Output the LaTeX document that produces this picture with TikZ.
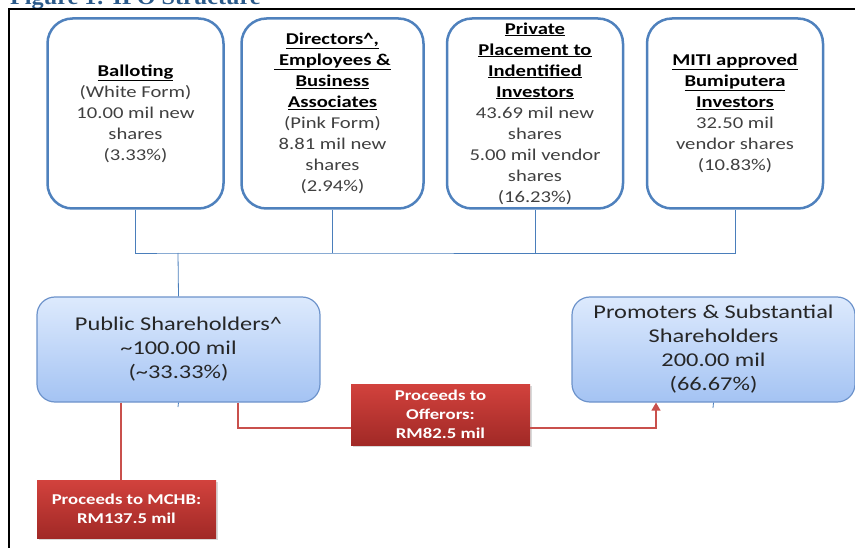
\documentclass[tikz,border=0pt]{standalone}
\usepackage{fontspec}
\setmainfont{Carlito}[FakeStretch=1.25]
\newfontfamily\titlefont{Liberation Serif}[FakeStretch=1.1]
\usetikzlibrary{arrows.meta,positioning,shadows}

\definecolor{boxblue}{HTML}{4F81BD}
\definecolor{lineblue}{HTML}{4A7EBB}
\definecolor{shadetop}{HTML}{DDEAFD}
\definecolor{shadebot}{HTML}{A4C3F3}
\definecolor{pubborder}{HTML}{6D93CB}
\definecolor{redtop}{HTML}{D2423D}
\definecolor{redbot}{HTML}{A12926}
\definecolor{redline}{HTML}{C9504C}
\definecolor{bodygray}{HTML}{404040}
\definecolor{titleblue}{HTML}{2B5A8A}

\newcommand{\hd}[1]{\textcolor{black}{\textbf{\underline{#1}}}}

\begin{document}
\begin{tikzpicture}[x=1pt,y=-1pt,>={Triangle[width=9pt,length=8pt]},
    tranche/.style={draw=boxblue,line width=2.5pt,rounded corners=25pt,
        minimum width=176pt,minimum height=190pt,align=center,inner sep=0pt,
        text=bodygray,font=\fontsize{16.5}{21}\selectfont},
    holder/.style={draw=pubborder,line width=1.2pt,rounded corners=18pt,
        top color=shadetop,bottom color=shadebot,minimum width=283pt,
        minimum height=105pt,align=center,text=black!85,
        font=\fontsize{19.5}{24}\selectfont},
    proceeds/.style={top color=redtop,bottom color=redbot,minimum width=179pt,
        align=center,inner sep=0pt,text=white,
        font=\bfseries\fontsize{15}{19}\selectfont,
        drop shadow={opacity=0.3,shadow xshift=2pt,shadow yshift=-2pt}},
    bus/.style={draw=lineblue,line width=0.8pt},
    cash/.style={draw=redline,line width=1.3pt}]

    \useasboundingbox (0,0) rectangle (855,548);

    % title, cut off at the top
    \begin{scope}
        \clip (0,0) rectangle (855,8);
        \node[anchor=base west,inner sep=0pt,text=titleblue,
              font=\titlefont\bfseries\fontsize{22}{26}\selectfont] (title) at (10,5) {Figure 1: IPO Structure};
    \end{scope}
    \draw[line width=2pt] (9,548) |- (855,9);

    % tranches
    \node[tranche] (ballot) at (135.5,113.5) {\hd{Balloting}\\(White Form)\\10.00 mil new\\shares\\(3.33\%)};
    \node[tranche,minimum width=182pt] (staff) at (332.5,113.5) {\hd{Directors\^{},}\\\hd{\ Employees \&}\\\hd{Business}\\\hd{Associates}\\(Pink Form)\\8.81 mil new\\shares\\(2.94\%)};
    \node[tranche] (private) at (535,113.5) {\hd{Private}\\\hd{Placement to}\\\hd{Indentified}\\\hd{Investors}\\43.69 mil new\\shares\\5.00 mil vendor\\shares\\(16.23\%)};
    \node[tranche] (miti) at (735,113.5) {\hd{MITI approved}\\\hd{Bumiputera}\\\hd{Investors}\\32.50 mil\\vendor shares\\(10.83\%)};

    % shareholders
    \node[holder] (public) at (178.5,349.5) {Public Shareholders\^{}\\\textasciitilde100.00 mil\\(\textasciitilde33.33\%)};
    \node[holder] (promoters) at (713.5,349.5) {Promoters \& Substantial\\Shareholders\\200.00 mil\\(66.67\%)};

    % proceeds
    \node[proceeds,minimum height=61pt] (offerors) at (440.5,414.5) {Proceeds to\\Offerors:\\RM82.5 mil};
    \node[proceeds,minimum height=58pt] (mchb) at (126.5,509) {Proceeds to MCHB:\\RM137.5 mil};

    \coordinate (busjoin) at (178,253);
    \coordinate (pubstub) at (178,407);
    \coordinate (promstub) at (713,408);

    \draw[bus] (ballot.south) |- (busjoin) -| (miti.south);
    \draw[bus] (staff.south) -- (staff.south |- busjoin);
    \draw[bus] (private.south) -- (private.south |- busjoin);
    \draw[bus] (busjoin) -- (public.north);
    \draw[bus] (public.south) -- (pubstub);
    \draw[bus] (promoters.south) -- (promstub);

    \draw[cash] ([xshift=-57.5pt]public.south) -- ([xshift=-57.5pt]public.south |- mchb.north);
    \draw[cash] ([xshift=59.5pt]public.south) |- ([yshift=-13.5pt]offerors.west);
    \draw[cash,->] ([yshift=-13.5pt]offerors.east) -| ([xshift=-57.5pt]promoters.south);

\end{tikzpicture}
\end{document}
